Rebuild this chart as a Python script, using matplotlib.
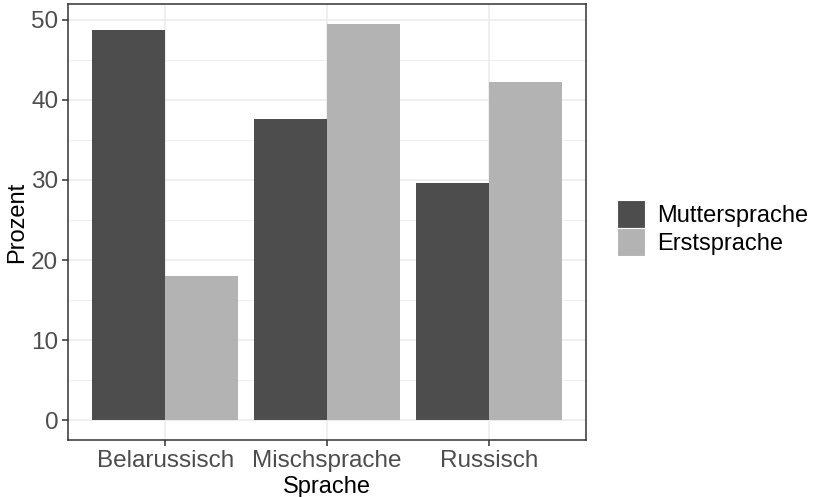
import numpy as np
import matplotlib.pyplot as plt
from matplotlib.patches import Patch
from matplotlib.ticker import MultipleLocator

plt.rcParams['font.family'] = ['Liberation Sans', 'DejaVu Sans']

# --- data ---
sprachen = ['Belarussisch', 'Mischsprache', 'Russisch']
muttersprache = [48.7, 37.6, 29.6]
erstsprache = [18.0, 49.5, 42.2]
serien = ['Muttersprache', 'Erstsprache']
farben = ['#4D4D4D', '#B3B3B3']

fig = plt.figure(figsize=(8.13, 4.97), dpi=100)
ax = fig.add_axes([68/813, 1 - 440/497, (586-68)/813, (440-4)/497])

x = np.arange(1, len(sprachen) + 1)
w = 0.45
ax.bar(x - w/2, muttersprache, width=w, color=farben[0], zorder=2)
ax.bar(x + w/2, erstsprache, width=w, color=farben[1], zorder=2)

ymax = max(max(muttersprache), max(erstsprache))
ax.set_ylim(-0.05 * ymax, 1.05 * ymax)
ax.set_xlim(0.4, 3.6)
ax.set_xticks(x)
ax.set_xticklabels(sprachen)
ax.yaxis.set_major_locator(MultipleLocator(10))
ax.yaxis.set_minor_locator(MultipleLocator(5))
ax.xaxis.set_minor_locator(plt.NullLocator())

# theme_bw look
ax.grid(True, which='major', color='#EBEBEB', linewidth=1.1, zorder=0)
ax.grid(True, which='minor', axis='y', color='#EBEBEB', linewidth=0.55, zorder=0)
ax.set_axisbelow(True)
for s in ax.spines.values():
    s.set_color('#333333')
    s.set_linewidth(1.1)
ax.tick_params(axis='both', which='major', labelsize=17.5, labelcolor='#4D4D4D',
               color='#333333', length=4, width=1.1, pad=3)
ax.tick_params(axis='y', which='minor', length=0)

ax.set_xlabel('Sprache', fontsize=17, labelpad=3)
ax.set_ylabel('Prozent', fontsize=17, labelpad=2)

handles = [Patch(facecolor=c, edgecolor='white', linewidth=0.8) for c in farben]
fig.legend(handles, serien, loc='center left', bbox_to_anchor=(617/813, 1 - 228/497),
           frameon=False, fontsize=17, handlelength=1.2, handleheight=1.45,
           labelspacing=0.0, handletextpad=0.5, borderpad=0, borderaxespad=0)

plt.savefig('out.png', dpi=100)
